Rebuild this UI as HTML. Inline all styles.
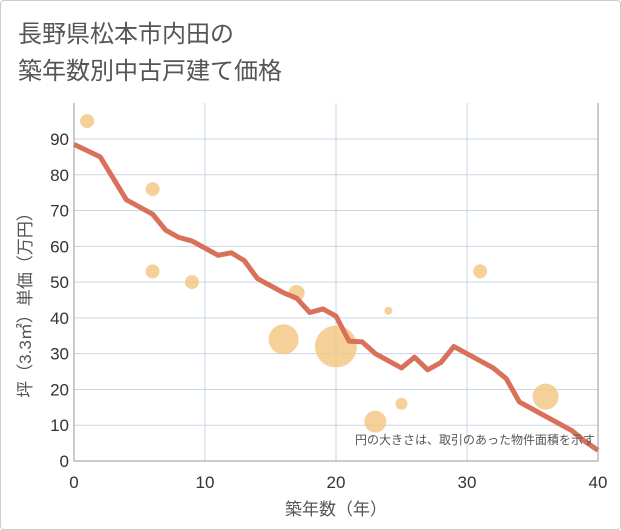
<!DOCTYPE html>
<html><head><meta charset="utf-8"><style>
body{margin:0;background:#fff;}
#wrap{position:relative;width:619px;height:528px;border:1px solid #ccc;border-radius:4px;background:#fff;overflow:hidden;}
svg text{font-family:"Liberation Sans","Noto Sans CJK JP",sans-serif;}
</style></head><body>
<div id="wrap">
<svg id="chart" width="621" height="530">
<text x="17" y="41" font-size="24" fill="#555">長野県松本市内田の</text>
<text x="17" y="78" font-size="24" fill="#555">築年数別中古戸建て価格</text>
<g id="grid"></g><g id="bubbles"></g><g id="line"></g><g id="axes"></g>
<text x="594" y="443" font-size="12" fill="#555" text-anchor="end">円の大きさは、取引のあった物件面積を示す</text>
<text x="335" y="514" font-size="17" fill="#555" text-anchor="middle">築年数（年）</text>
<text transform="translate(30,300) rotate(-90)" font-size="17" fill="#555" text-anchor="middle">坪（3.3㎡）単価（万円）</text>
</svg></div>
<script>
const xTicks=[0,10,20,30,40];
const yTicks=[0,10,20,30,40,50,60,70,80,90];
const lineYears=[0,2,4,6,7,8,9,10,11,12,13,14,15,16,17,18,19,20,21,22,23,24,25,26,27,28,29,30,31,32,33,34,35,36,37,38,39,40];
const lineValues=[88.5,85,73,69,64.5,62.5,61.5,59.5,57.5,58.2,56,51,49,47,45.5,41.5,42.5,40.5,33.5,33.3,30,28,26,29,25.5,27.5,32,30,28,26,23,16.5,14.5,12.5,10.5,8.5,5.5,3];
const bubbleYears=[1,6,6,9,16,17,20,23,24,25,31,36];
const bubbleValues=[95,76,53,50,34,47,32,11,42,16,53,18];
const bubbleSizes=[7,7,7,7,15,8,21,11,4,6,7,13];
const X0=73,X1=597,Y0=460,Y1=102;
const sx=v=>X0+(X1-X0)*v/40;
const sy=v=>Y0-(Y0-138)*v/90;
const NS="http://www.w3.org/2000/svg";
function mk(p,t,a){const e=document.createElementNS(NS,t);for(const k in a)e.setAttribute(k,a[k]);p.appendChild(e);return e;}
const grid=document.getElementById('grid'),axes=document.getElementById('axes');
yTicks.forEach(v=>{const l=mk(grid,'line',{x1:X0,x2:X1,y1:sy(v),y2:sy(v),stroke:'#c9d6e3','stroke-width':1});


const t=mk(axes,'text',{x:X0-5,y:sy(v)+6,'font-size':17,fill:'#333','text-anchor':'end'});t.textContent=v;

});
xTicks.forEach(v=>{const l=mk(grid,'line',{x1:sx(v),x2:sx(v),y1:Y1,y2:Y0,stroke:'#c9d6e3','stroke-width':1});


const t=mk(axes,'text',{x:sx(v),y:487,'font-size':17,fill:'#333','text-anchor':'middle'});t.textContent=v;

});
const ax=mk(axes,'path',{d:`M${X0} ${Y1}V${Y0}H${X1}V${Y1}`,fill:'none',stroke:'#999','stroke-width':1});


const bg=document.getElementById('bubbles');
bubbleYears.forEach((y,i)=>{const c=mk(bg,'circle',{cx:sx(y),cy:sy(bubbleValues[i]),r:bubbleSizes[i],fill:'#f3c67f','fill-opacity':0.8});

});
const pl=mk(document.getElementById('line'),'polyline',{points:lineYears.map((y,i)=>sx(y)+','+sy(lineValues[i])).join(' '),fill:'none',stroke:'#d9705a','stroke-width':5,'stroke-linejoin':'round'});


</script></body></html>
